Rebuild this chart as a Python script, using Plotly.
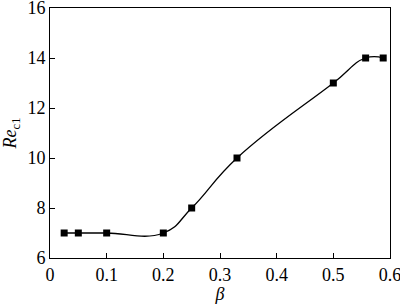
import plotly.graph_objects as go

beta = [0.025, 0.05, 0.1, 0.2, 0.25, 0.33, 0.5, 0.557, 0.588]
rec1 = [7, 7, 7, 7, 8, 10, 13, 14, 14]
xticks = [0, 0.1, 0.2, 0.3, 0.4, 0.5, 0.6]
yticks = [6, 8, 10, 12, 14, 16]

fig = go.Figure()
fig.add_trace(go.Scatter(
    x=beta, y=rec1, mode="lines+markers",
    line=dict(color="black", width=1.3, shape="spline", smoothing=1.3),
    marker=dict(symbol="square", size=7, color="black"),
    showlegend=False,
))

FAM = "Liberation Serif"
font = dict(family=FAM, size=18, color="black")
fig.update_layout(
    template="simple_white",
    width=400, height=304,
    margin=dict(l=50, r=10, t=8, b=46),
    paper_bgcolor="white", plot_bgcolor="white",
    font=font,
    xaxis=dict(range=[0, 0.6], tickvals=xticks, ticktext=[f"{v:g}" for v in xticks],
               ticks="inside", ticklen=5, tickcolor="black", showline=True, linecolor="black",
               linewidth=1, mirror=True, showgrid=False, zeroline=False,
               ticklabeloverflow="allow", automargin=False,
               tickfont=dict(family=FAM, size=18, color="black"),
               title=dict(text="<i>β</i>", standoff=4, font=dict(family=FAM, size=18))),
    yaxis=dict(range=[6, 16], tickvals=yticks,
               ticks="inside", ticklen=5, tickcolor="black", showline=True, linecolor="black",
               linewidth=1, mirror=True, showgrid=False, zeroline=False,
               ticklabeloverflow="allow", automargin=False,
               tickfont=dict(family=FAM, size=18, color="black"),
               title=dict(text="<i>Re</i><sub>c1</sub>", standoff=10, font=dict(family=FAM, size=18))),
)
fig.write_html("out.html")
